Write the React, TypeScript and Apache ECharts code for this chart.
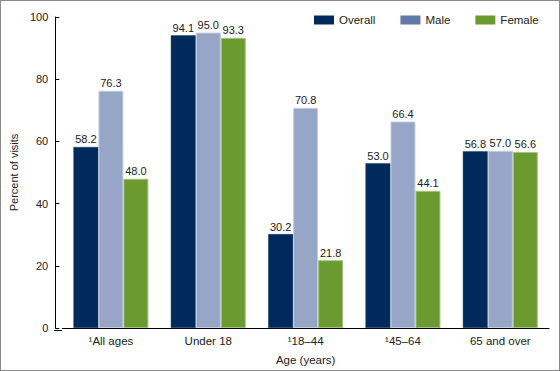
import React, { useEffect, useRef } from "react";
import * as echarts from "echarts";

const categories = ["¹All ages", "Under 18", "¹18–44", "¹45–64", "65 and over"];
const overall = [58.2, 94.1, 30.2, 53.0, 56.8];
const male = [76.3, 95.0, 70.8, 66.4, 57.0];
const female = [48.0, 93.3, 21.8, 44.1, 56.6];
const yTicks = [0, 20, 40, 60, 80, 100];

export default function App() {
  const ref = useRef<HTMLDivElement>(null);
  useEffect(() => {
    if (!ref.current) return;
    const chart = echarts.init(ref.current, null, { renderer: "svg" });
    const font = "Liberation Sans, Arial, sans-serif";
    const label = {
      show: true,
      position: "top" as const,
      distance: 2,
      fontSize: 11,
      fontFamily: font,
      color: "#222",
      formatter: (p: any) => Number(p.value).toFixed(1),
    };
    chart.setOption({
      animation: false,
      textStyle: { fontFamily: font },
      grid: { left: 61, right: 11, top: 17, bottom: 41 },
      legend: {
        left: 309,
        top: 9,
        itemWidth: 20,
        itemHeight: 9,
        itemGap: 25,
        icon: "rect",
        textStyle: { fontSize: 11.5, color: "#222", fontFamily: font },
        data: [
          { name: "Overall", itemStyle: { color: "#002a5c", borderWidth: 0 } },
          { name: "Male", itemStyle: { color: "#6079a7", borderWidth: 0 } },
          { name: "Female", itemStyle: { color: "#6a9a30", borderWidth: 0 } },
        ],
      },
      xAxis: {
        type: "category",
        data: categories,
        name: "Age (years)",
        nameLocation: "middle",
        nameGap: 26,
        nameTextStyle: { fontSize: 11.5, color: "#222", fontFamily: font },
        axisLine: { lineStyle: { color: "#000", width: 1 } },
        axisTick: { show: false },
        axisLabel: { fontSize: 11.5, color: "#222", margin: 7, fontFamily: font },
      },
      yAxis: {
        type: "value",
        min: yTicks[0],
        max: yTicks[yTicks.length - 1],
        interval: 20,
        offset: 7,
        name: "Percent of visits",
        nameLocation: "middle",
        nameRotate: 90,
        nameGap: 35,
        nameTextStyle: { fontSize: 11, color: "#222", fontFamily: font },
        axisLine: { show: true, lineStyle: { color: "#000", width: 1 } },
        axisTick: { show: true, inside: true, length: 4, lineStyle: { color: "#000" } },
        axisLabel: { fontSize: 11, color: "#222", margin: 7, fontFamily: font },
        splitLine: { show: false },
      },
      graphic: [
        {
          type: "line",
          shape: { x1: 54, y1: 330.5, x2: 62, y2: 330.5 },
          style: { stroke: "#000", lineWidth: 1 },
        },
      ],
      series: [
        {
          name: "Overall",
          type: "bar",
          data: overall,
          barGap: "0%",
          barCategoryGap: "23%",
          itemStyle: { color: "#002a5c", borderColor: "#1e3f6c", borderWidth: 0.5 },
          label,
        },
        {
          name: "Male",
          type: "bar",
          data: male,
          itemStyle: { color: "#97a6c6", borderColor: "#c4cde2", borderWidth: 1 },
          label,
        },
        {
          name: "Female",
          type: "bar",
          data: female,
          itemStyle: { color: "#6a9a30", borderColor: "#a4c47e", borderWidth: 1 },
          label,
        },
      ],
    });
    return () => chart.dispose();
  }, []);
  return (
    <div
      style={{
        position: "absolute",
        left: 0,
        top: 0,
        width: 560,
        height: 371,
        boxSizing: "border-box",
        border: "1px solid #8a8a8a",
        background: "#fff",
      }}
    >
      <div ref={ref} style={{ position: "absolute", left: -1, top: -1, width: 560, height: 371 }} />
    </div>
  );
}
